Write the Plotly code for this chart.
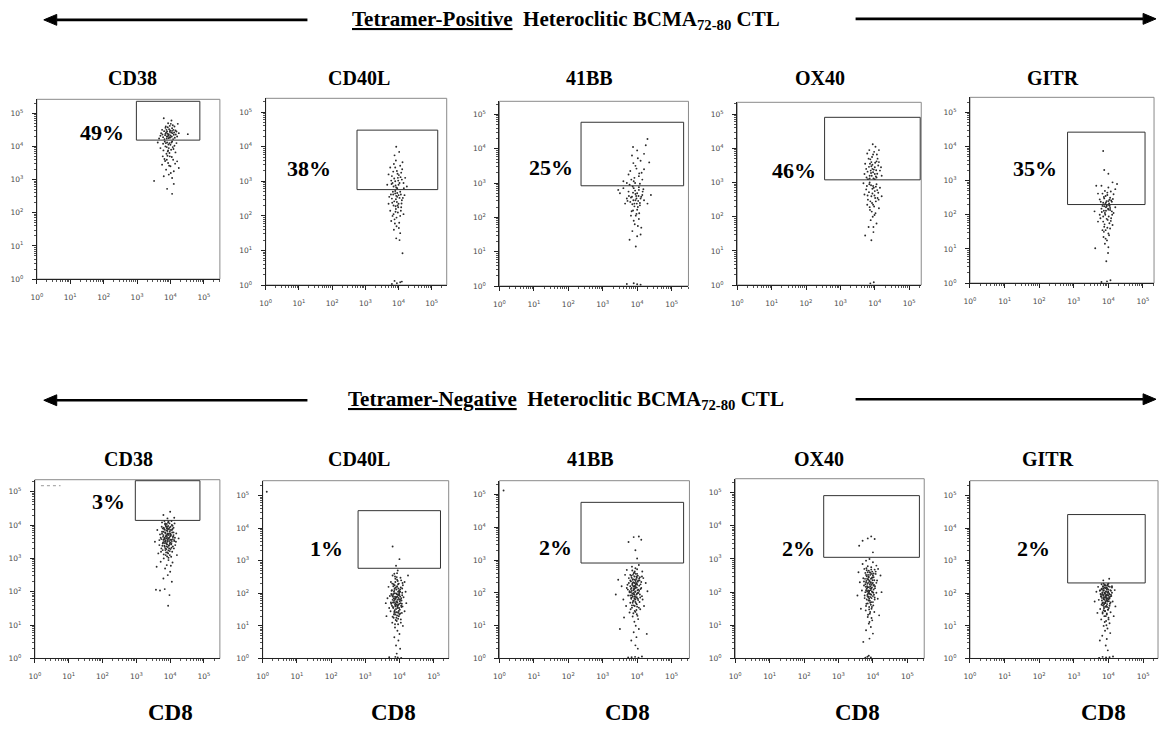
import plotly.graph_objects as go

W, H = 1162, 733

# ---------------------------------------------------------------- data
MARKERS = ["CD38", "CD40L", "41BB", "OX40", "GITR"]
POS_PCT = [49, 38, 25, 46, 35]      # % of tetramer-positive CTL in gate
NEG_PCT = [3, 1, 2, 2, 2]           # % of tetramer-negative CTL in gate
X_LABEL = "CD8"
DECADES = [0, 1, 2, 3, 4, 5]

# Events as (log10 CD8, log10 marker) pairs
CD38_POS = [
    (3.92, 4.30), (3.85, 4.38), (4.02, 4.42), (3.95, 4.25), (4.10, 4.35), (3.78, 4.28), (3.88, 4.50),
    (4.05, 4.55), (3.98, 4.62), (4.15, 4.48), (3.72, 4.40), (3.93, 4.70), (4.08, 4.22), (3.82, 4.22),
    (4.00, 4.33), (3.90, 4.45), (4.20, 4.30), (3.70, 4.32), (3.96, 4.52), (4.12, 4.60), (3.86, 4.60),
    (4.03, 4.78), (3.80, 4.85), (4.18, 4.45), (3.95, 4.37), (4.06, 4.40), (3.89, 4.30), (4.25, 4.40),
    (3.75, 4.50), (4.00, 4.27), (3.92, 4.58), (4.13, 4.26), (3.84, 4.34), (4.52, 4.37), (4.22, 4.68),
    (3.98, 4.44), (4.09, 4.50), (3.66, 4.24),
    (3.94, 4.34), (4.04, 4.30), (3.87, 4.42), (3.99, 4.48), (4.11, 4.42), (3.81, 4.46), (3.91, 4.38),
    (4.07, 4.64), (3.97, 4.28), (3.85, 4.56), (4.16, 4.36), (4.01, 4.68), (3.89, 4.24), (3.76, 4.36),
    (4.05, 4.47),
    (3.90, 4.12), (4.00, 4.05), (3.85, 4.00), (4.05, 4.15), (3.95, 3.95), (3.78, 4.08), (4.12, 4.02),
    (3.92, 3.85), (4.02, 3.90), (3.70, 3.95), (3.88, 3.78), (4.15, 3.82), (3.98, 3.70), (3.82, 3.62),
    (4.08, 3.60), (3.93, 3.50), (4.20, 3.55), (3.75, 3.45), (4.00, 3.40), (3.87, 3.30), (4.10, 3.25),
    (3.95, 3.15), (4.05, 3.05), (3.80, 3.10), (3.51, 2.96), (3.90, 2.72), (4.05, 2.57), (4.10, 2.87),
    (4.25, 3.35), (3.97, 4.10), (3.83, 4.15), (4.07, 3.98), (3.93, 3.88), (4.18, 4.10), (3.62, 4.12),
    (3.94, 4.06), (3.86, 4.10), (4.03, 4.12), (3.89, 3.98), (4.09, 3.92), (3.79, 3.88), (3.97, 3.80),
    (3.91, 3.72), (4.04, 3.68), (3.84, 3.56), (4.14, 3.48), (3.96, 3.42), (3.89, 3.60), (4.01, 3.20),
    (3.77, 3.70),
]
CD40L_POS = [
    (3.90, 3.00), (3.80, 3.15), (4.00, 2.90), (3.95, 3.30), (4.10, 3.05), (3.85, 2.85), (3.70, 3.20),
    (4.05, 3.45), (3.92, 3.60), (3.75, 3.40), (4.15, 2.95), (3.98, 3.10), (3.88, 3.75), (4.02, 3.85),
    (3.93, 4.00), (4.08, 3.25), (3.82, 2.95), (4.20, 3.10), (3.96, 2.80), (3.66, 2.90), (4.12, 3.55),
    (3.86, 3.50), (4.01, 3.18), (3.78, 3.02), (4.25, 2.85), (3.91, 2.88),
    (3.93, 2.82), (4.03, 2.95), (3.87, 3.08), (3.97, 3.22), (3.79, 2.92), (4.11, 3.35), (3.90, 3.40),
    (4.06, 3.12), (3.84, 3.28), (3.99, 3.02), (4.16, 2.80),
    (3.90, 2.65), (3.80, 2.50), (4.00, 2.60), (3.95, 2.40), (4.05, 2.70), (3.85, 2.30), (3.72, 2.55),
    (4.10, 2.45), (3.92, 2.20), (3.98, 2.10), (3.82, 2.00), (4.08, 2.25), (3.88, 1.90), (4.02, 1.80),
    (3.75, 2.15), (4.15, 2.05), (3.94, 1.70), (3.86, 1.60), (4.05, 1.50), (3.96, 2.55), (3.70, 2.35),
    (4.18, 2.60), (3.90, 2.72), (4.00, 2.35), (3.84, 2.62), (3.93, 1.35), (4.03, 1.30), (4.12, 0.92),
    (3.88, 0.12), (3.95, 0.05), (4.05, 0.08), (3.80, 0.03), (4.10, 0.10), (3.92, 2.48), (4.07, 2.15),
    (3.78, 1.85),
    (3.93, 2.58), (3.87, 2.42), (4.03, 2.52), (3.97, 2.30), (3.81, 2.38), (4.09, 2.36), (3.91, 2.12),
    (3.99, 2.25), (3.85, 2.05), (4.05, 2.00), (3.94, 1.95), (3.77, 2.62), (4.13, 2.52), (3.89, 1.78),
    (4.01, 1.65), (3.83, 2.70), (3.96, 2.66), (4.07, 2.62), (3.91, 2.28),
]
BB41_POS = [
    (3.90, 3.05), (4.05, 3.20), (3.80, 3.35), (4.15, 3.10), (3.95, 3.50), (4.10, 3.65), (3.70, 3.00),
    (4.20, 3.40), (3.85, 3.80), (4.00, 3.95), (4.25, 4.10), (4.30, 4.28), (3.75, 3.25), (4.08, 2.98),
    (3.92, 3.15), (4.35, 3.60), (3.60, 3.05), (4.02, 3.72), (3.88, 4.05),
    (3.94, 3.00), (4.06, 3.28), (3.83, 3.10), (3.98, 3.42), (4.13, 3.30), (3.89, 3.58), (4.20, 3.85),
    (3.78, 2.95),
    (3.90, 2.85), (4.00, 2.70), (3.85, 2.60), (4.05, 2.80), (3.95, 2.50), (3.75, 2.75), (4.10, 2.55),
    (3.92, 2.40), (4.02, 2.30), (3.80, 2.45), (4.15, 2.65), (3.88, 2.20), (4.08, 2.35), (3.70, 2.55),
    (3.98, 2.10), (4.20, 2.50), (3.60, 2.85), (3.82, 2.05), (4.05, 1.95), (3.93, 1.80), (4.12, 1.70),
    (3.86, 1.60), (4.00, 1.45), (3.78, 1.35), (4.10, 1.50), (3.96, 1.15), (3.50, 2.70), (4.30, 2.40),
    (3.65, 2.40), (3.97, 2.62), (4.03, 2.48), (3.87, 2.90), (4.18, 2.82), (3.45, 2.80), (4.40, 2.65),
    (4.00, 0.05), (3.90, 0.08), (4.10, 0.04), (3.70, 0.06),
    (3.94, 2.78), (4.04, 2.62), (3.88, 2.72), (3.98, 2.55), (3.82, 2.58), (4.08, 2.42), (3.92, 2.32),
    (4.00, 2.22), (3.86, 2.38), (4.12, 2.60), (3.76, 2.62), (3.96, 2.05), (4.06, 2.12), (3.90, 1.90),
    (4.02, 1.75), (3.84, 2.18), (3.95, 2.68), (4.16, 2.75), (3.72, 2.48), (3.99, 2.40), (3.89, 2.50),
    (4.05, 2.88),
]
OX40_POS = [
    (3.85, 3.20), (3.95, 3.30), (4.05, 3.15), (3.75, 3.40), (4.10, 3.50), (3.90, 3.60), (3.80, 3.10),
    (4.00, 3.45), (3.92, 3.75), (4.15, 3.35), (3.70, 3.25), (3.98, 3.90), (4.08, 3.70), (3.86, 3.55),
    (4.02, 4.05), (3.78, 3.85), (3.94, 4.12), (4.20, 3.20), (3.88, 3.35), (4.05, 3.62), (3.82, 3.70),
    (4.12, 3.95), (3.72, 3.55), (3.96, 3.12), (4.00, 3.25), (3.90, 3.48), (4.18, 3.45), (3.84, 3.95),
    (4.06, 3.82), (3.76, 3.15), (3.93, 3.40), (4.03, 3.18),
    (3.89, 3.28), (3.97, 3.38), (4.07, 3.26), (3.83, 3.46), (3.93, 3.52), (4.01, 3.58), (3.87, 3.68),
    (4.12, 3.60), (3.79, 3.32), (3.95, 3.82), (4.04, 3.36), (3.91, 3.20), (3.85, 3.12), (4.00, 3.10),
    (3.85, 3.00), (3.95, 2.90), (4.05, 2.95), (3.75, 2.80), (4.10, 2.70), (3.90, 2.60), (3.80, 2.50),
    (4.00, 2.75), (3.92, 2.40), (4.15, 2.85), (3.70, 2.65), (3.98, 2.30), (4.08, 2.55), (3.86, 2.20),
    (4.02, 2.10), (3.78, 2.35), (3.94, 2.00), (4.20, 2.60), (3.88, 1.90), (4.05, 1.80), (3.82, 1.70),
    (3.96, 1.55), (3.72, 1.45), (3.90, 1.31), (3.93, 2.82), (4.03, 2.45), (3.84, 2.95), (4.12, 2.25),
    (3.67, 2.98), (3.99, 2.62), (3.87, 0.05), (3.97, 0.08),
    (3.89, 2.92), (3.97, 2.85), (4.07, 2.78), (3.83, 2.72), (3.93, 2.68), (4.01, 2.55), (3.87, 2.45),
    (3.95, 2.35), (3.79, 2.62), (4.11, 2.50), (3.91, 2.15), (3.99, 2.05), (3.85, 2.28), (3.96, 1.70),
    (4.03, 2.88), (3.77, 2.90),
]
GITR_POS = [
    (3.95, 2.40), (4.05, 2.50), (3.85, 2.35), (4.15, 2.60), (3.90, 2.70), (4.00, 2.80), (3.75, 2.45),
    (4.10, 2.38), (3.80, 2.85), (4.20, 2.75), (3.92, 2.55), (4.25, 2.90), (3.70, 2.62), (4.02, 2.33),
    (3.88, 2.48), (3.85, 3.87), (3.88, 3.31), (4.00, 3.20), (3.65, 2.85), (4.12, 2.95), (3.97, 2.65),
    (4.08, 2.42),
    (3.93, 2.36), (4.03, 2.44), (3.87, 2.52), (3.97, 2.58), (4.13, 2.46), (3.83, 2.62), (4.07, 2.68),
    (3.91, 2.32), (3.78, 2.38), (4.00, 2.40),
    (3.95, 2.25), (4.00, 2.15), (3.90, 2.05), (4.05, 2.20), (3.85, 1.95), (4.10, 2.10), (3.80, 2.18),
    (3.98, 1.85), (4.03, 1.75), (3.88, 1.65), (4.08, 1.90), (3.92, 1.55), (3.75, 2.00), (4.15, 2.05),
    (4.00, 1.45), (3.86, 1.35), (3.96, 1.25), (4.05, 1.60), (3.90, 1.15), (3.70, 1.80), (4.02, 2.28),
    (3.93, 2.12), (3.83, 2.26), (4.12, 1.70), (3.62, 1.02), (3.94, 0.64), (4.00, 1.05), (3.87, 1.50),
    (3.99, 0.88), (4.20, 2.22), (3.60, 2.10), (3.96, 0.05), (4.06, 0.08), (3.80, 0.03),
    (3.93, 2.22), (3.99, 2.18), (3.87, 2.12), (4.05, 2.14), (3.91, 2.00), (3.81, 2.08), (4.01, 1.95),
    (3.95, 1.88), (3.85, 1.80), (4.07, 1.82), (3.89, 1.72), (3.97, 1.62), (3.83, 1.55), (4.02, 1.40),
    (3.92, 1.30), (3.77, 1.90), (4.11, 2.00), (3.95, 2.28), (3.88, 2.25), (4.04, 2.26),
]
CD38_NEG = [
    (3.85, 4.05), (3.95, 4.10), (4.05, 4.00), (3.75, 3.95), (3.90, 3.90), (4.00, 3.85), (3.80, 3.80),
    (4.10, 3.92), (3.92, 3.75), (3.88, 3.70), (4.02, 3.68), (3.70, 3.72), (3.97, 3.62), (3.83, 3.60),
    (4.08, 3.58), (3.93, 3.55), (3.86, 3.50), (4.00, 3.48), (3.78, 3.45), (4.12, 3.52), (3.91, 3.42),
    (3.96, 3.38), (3.84, 3.35), (4.04, 3.32), (3.89, 3.28), (3.99, 3.22), (3.74, 3.30), (4.15, 3.40),
    (3.94, 3.15), (3.87, 3.10), (4.03, 3.05), (3.81, 3.00), (3.95, 2.95), (4.07, 2.88), (3.90, 2.80),
    (3.72, 2.90), (3.85, 2.70), (4.00, 2.60), (3.60, 2.75), (3.93, 2.50), (3.80, 2.40), (4.05, 2.30),
    (3.58, 2.06), (3.70, 2.04), (3.84, 2.08), (3.98, 1.90), (3.94, 1.58), (3.65, 3.15), (4.20, 3.10),
    (4.25, 3.60), (3.55, 3.50), (3.62, 3.85), (4.18, 3.75), (3.98, 4.05), (3.87, 3.98), (4.06, 3.78),
    (3.79, 3.65), (3.93, 3.88), (4.01, 3.95), (3.84, 3.86), (3.96, 3.70), (4.09, 3.66), (3.82, 3.52),
    (3.91, 3.64), (4.03, 3.56), (3.77, 3.38), (3.99, 3.44), (3.86, 3.25), (4.11, 3.30), (3.92, 3.18),
    (3.83, 4.12), (4.04, 4.12), (3.90, 4.03), (3.76, 4.08), (4.13, 4.05), (3.68, 3.55), (4.17, 3.50),
    (3.73, 3.20), (3.95, 3.02), (4.02, 2.78), (3.88, 3.46), (3.97, 3.52), (3.85, 3.78), (4.07, 3.88),
    (3.94, 3.97), (3.80, 4.30), (4.00, 4.40), (3.92, 4.20), (4.12, 4.22), (3.89, 3.60), (4.00, 3.74),
    (3.81, 3.92),
    (3.88, 3.95), (3.98, 3.92), (3.82, 3.88), (4.05, 3.85), (3.92, 3.82), (3.76, 3.80), (4.10, 3.78),
    (3.86, 3.76), (3.96, 3.74), (4.02, 3.72), (3.80, 3.70), (3.90, 3.68), (4.08, 3.64), (3.84, 3.62),
    (3.95, 3.60), (3.74, 3.58), (4.00, 3.56), (3.87, 3.54), (4.12, 3.55), (3.92, 3.50), (3.79, 3.48),
    (4.04, 3.46), (3.89, 3.44), (3.97, 3.40), (3.83, 3.38), (4.08, 3.36), (3.93, 3.34), (3.86, 3.30),
    (4.01, 3.28), (3.78, 3.25), (3.95, 3.24), (4.06, 3.20), (3.88, 3.18), (3.81, 3.12), (3.99, 3.10),
    (3.91, 3.06), (4.10, 3.70), (3.72, 3.62), (3.85, 4.02), (3.94, 4.08), (4.07, 3.98), (3.78, 3.90),
    (3.99, 3.80), (3.87, 3.66), (3.93, 3.58), (3.83, 3.46), (4.03, 3.42), (3.90, 3.36), (3.96, 3.88),
    (4.14, 3.62), (3.68, 3.40), (3.76, 3.74), (3.91, 3.94), (4.00, 3.66), (3.84, 3.58), (3.97, 3.30),
    (3.89, 3.84), (4.05, 3.52), (3.80, 3.56), (3.92, 3.72),
]
CD40L_NEG = [
    (3.85, 2.60), (3.95, 2.70), (3.90, 2.85), (4.00, 3.05), (3.80, 3.44), (3.92, 2.50), (3.88, 2.45),
    (4.05, 2.40), (3.75, 2.35), (3.98, 2.30), (3.83, 2.28), (4.10, 2.25), (3.93, 2.20), (3.86, 2.15),
    (4.02, 2.12), (3.78, 2.10), (3.96, 2.05), (4.08, 2.02), (3.90, 2.00), (3.82, 1.98), (4.00, 1.95),
    (3.72, 1.92), (3.94, 1.90), (4.12, 1.88), (3.87, 1.85), (3.99, 1.82), (3.80, 1.80), (4.06, 1.78),
    (3.91, 1.75), (3.84, 1.72), (4.03, 1.70), (3.76, 1.68), (3.97, 1.65), (3.89, 1.62), (4.09, 1.60),
    (3.81, 1.58), (3.95, 1.55), (4.01, 1.50), (3.86, 1.48), (3.74, 1.45), (3.93, 1.42), (4.07, 1.40),
    (3.88, 1.35), (3.98, 1.30), (3.83, 1.25), (4.04, 1.20), (3.92, 1.15), (3.79, 1.10), (3.96, 1.05),
    (4.10, 1.00), (3.87, 0.95), (3.94, 0.85), (4.00, 0.75), (3.85, 0.65), (3.97, 0.55), (3.90, 0.40),
    (4.02, 0.30), (3.92, 0.15), (3.95, 0.03), (3.88, 0.05), (4.05, 0.02), (3.70, 0.04), (3.80, 2.55),
    (4.15, 2.35), (3.68, 2.20), (4.18, 2.05), (3.65, 1.85), (4.20, 1.70), (3.70, 1.55), (4.15, 1.45),
    (3.62, 1.30), (3.93, 2.62), (3.84, 2.05), (3.97, 1.95), (3.90, 1.88), (3.86, 1.80), (4.02, 1.90),
    (3.94, 1.72), (3.81, 1.92), (4.05, 1.62), (3.89, 2.18), (3.99, 2.08), (3.78, 1.95), (4.08, 2.15),
    (3.92, 1.66), (3.85, 1.40), (4.00, 1.35), (3.95, 2.38), (3.87, 2.52), (4.03, 2.48), (4.25, 2.55),
    (3.60, 1.70), (0.12, 5.12),
    (3.88, 2.35), (3.96, 2.28), (3.82, 2.22), (4.04, 2.18), (3.91, 2.12), (3.77, 2.08), (4.00, 2.04),
    (3.86, 2.00), (3.94, 1.96), (4.08, 1.94), (3.80, 1.90), (3.97, 1.86), (3.89, 1.83), (4.03, 1.80),
    (3.84, 1.77), (3.92, 1.74), (3.75, 1.72), (4.00, 1.68), (3.87, 1.65), (3.95, 1.62), (4.06, 1.58),
    (3.82, 1.55), (3.90, 1.52), (3.98, 1.46), (3.85, 1.44), (4.02, 1.38), (3.93, 1.32), (3.80, 1.28),
    (3.96, 1.22), (3.89, 1.18), (4.04, 1.10), (3.87, 1.05), (3.93, 2.42), (3.79, 2.30), (4.09, 2.32),
    (3.85, 2.10), (3.99, 2.00), (3.91, 1.88), (3.83, 1.85), (4.01, 1.76), (3.88, 1.70), (3.94, 1.58),
    (3.78, 1.62), (4.07, 1.68), (3.90, 1.42), (3.86, 2.25), (3.97, 2.15), (3.92, 1.98), (4.05, 1.85),
    (3.81, 1.72), (3.95, 1.80), (3.87, 1.90), (3.99, 1.55), (3.84, 1.35), (3.91, 1.25), (4.02, 2.05),
    (3.76, 1.98), (3.93, 2.22), (3.88, 1.60), (3.97, 1.40),
]
BB41_NEG = [
    (3.75, 3.55), (3.90, 3.70), (4.05, 3.72), (4.12, 3.62), (3.95, 3.30), (4.00, 3.05),
    (3.85, 2.80), (3.95, 2.75), (4.05, 2.85), (3.70, 2.70), (4.15, 2.65), (3.90, 2.60), (3.80, 2.55),
    (4.00, 2.58), (3.92, 2.50), (4.08, 2.48), (3.76, 2.45), (3.97, 2.42), (3.87, 2.40), (4.03, 2.38),
    (3.82, 2.35), (4.12, 2.33), (3.93, 2.30), (3.99, 2.28), (3.72, 2.25), (4.06, 2.22), (3.89, 2.20),
    (3.96, 2.18), (3.84, 2.15), (4.10, 2.12), (3.91, 2.10), (4.01, 2.08), (3.78, 2.05), (3.94, 2.03),
    (4.04, 2.00), (3.86, 1.98), (3.98, 1.95), (3.74, 1.92), (4.14, 1.90), (3.92, 1.88), (3.83, 1.85),
    (4.02, 1.82), (3.95, 1.80), (3.88, 1.75), (4.07, 1.72), (3.80, 1.70), (3.97, 1.68), (3.90, 1.62),
    (4.00, 1.58), (3.85, 1.55), (4.09, 1.50), (3.93, 1.45), (3.78, 1.40), (3.99, 1.35), (3.87, 1.28),
    (4.03, 1.20), (3.92, 1.12), (3.96, 1.00), (4.05, 0.90), (3.90, 0.80), (3.98, 0.65), (3.83, 0.55),
    (3.95, 0.40), (4.02, 0.30), (3.55, 2.20), (3.45, 2.40), (3.38, 1.95), (3.60, 1.80), (3.65, 2.55),
    (4.25, 2.30), (4.30, 2.05), (4.20, 1.60), (3.62, 1.25), (4.28, 0.75), (3.50, 0.90), (3.70, 2.15),
    (4.18, 2.45), (3.68, 1.60), (4.16, 1.80), (3.93, 2.65), (3.88, 2.32), (4.00, 2.25), (3.94, 2.14),
    (3.82, 2.02), (4.06, 2.06), (3.91, 1.95), (3.99, 1.87), (3.86, 2.28), (4.02, 2.52), (3.96, 2.36),
    (3.80, 1.92), (3.94, 0.05), (4.04, 0.02), (3.84, 0.04), (3.74, 0.03), (4.14, 0.06), (0.12, 5.12),
    (3.88, 2.55), (3.98, 2.50), (3.84, 2.46), (4.06, 2.44), (3.93, 2.40), (3.80, 2.38), (4.02, 2.34),
    (3.90, 2.32), (3.96, 2.26), (3.86, 2.24), (4.10, 2.26), (3.92, 2.20), (3.99, 2.16), (3.82, 2.12),
    (4.04, 2.10), (3.89, 2.08), (3.95, 2.04), (3.78, 2.02), (4.00, 1.98), (3.91, 1.96), (3.85, 1.93),
    (4.08, 1.95), (3.94, 1.90), (3.97, 1.85), (3.83, 1.82), (4.03, 1.78), (3.90, 1.76), (3.87, 1.70),
    (3.99, 1.65), (3.93, 1.60), (4.05, 1.55), (3.81, 1.50), (3.95, 1.42), (3.89, 1.38), (4.01, 1.30),
    (3.92, 2.62), (3.86, 2.68), (4.00, 2.72), (3.76, 2.30), (4.12, 2.15), (3.88, 2.42), (3.94, 2.22),
    (4.02, 2.00), (3.84, 2.06), (3.97, 2.30), (3.91, 2.14), (3.80, 2.20), (4.07, 2.38), (3.95, 1.72),
    (3.87, 1.88), (3.99, 2.46), (3.83, 2.52), (4.09, 1.86), (3.90, 2.00), (3.96, 2.58), (3.73, 2.10),
    (4.14, 2.50), (3.85, 1.62), (3.98, 1.48), (3.92, 1.82),
]
OX40_NEG = [
    (3.70, 3.55), (3.85, 3.62), (3.95, 3.68), (4.05, 3.60), (3.60, 3.40), (4.00, 3.20),
    (3.80, 2.95), (3.90, 3.00), (4.00, 2.90), (3.70, 2.85), (4.10, 2.80), (3.85, 2.78), (3.95, 2.75),
    (3.75, 2.70), (4.05, 2.68), (3.88, 2.65), (3.98, 2.62), (3.78, 2.58), (4.08, 2.55), (3.92, 2.52),
    (3.82, 2.48), (4.02, 2.45), (3.72, 2.42), (3.94, 2.40), (3.86, 2.38), (4.12, 2.35), (3.90, 2.32),
    (3.80, 2.30), (4.00, 2.28), (3.84, 2.25), (3.96, 2.22), (3.74, 2.20), (4.06, 2.18), (3.88, 2.15),
    (3.92, 2.12), (3.82, 2.10), (4.02, 2.08), (3.86, 2.05), (3.97, 2.02), (3.78, 2.00), (4.10, 1.98),
    (3.90, 1.95), (3.84, 1.92), (4.00, 1.88), (3.93, 1.85), (3.76, 1.82), (4.05, 1.78), (3.87, 1.75),
    (3.95, 1.70), (3.81, 1.65), (4.01, 1.60), (3.89, 1.55), (3.96, 1.50), (3.79, 1.45), (4.04, 1.40),
    (3.91, 1.35), (3.85, 1.25), (3.98, 1.15), (3.88, 1.05), (3.94, 0.95), (3.80, 0.85), (4.00, 0.75),
    (3.90, 0.60), (3.72, 0.50), (3.58, 2.60), (3.55, 1.90), (4.22, 2.50), (4.25, 2.00), (3.65, 1.50),
    (4.18, 1.30), (3.62, 2.30), (4.15, 2.70), (3.68, 2.05), (4.14, 1.80), (3.87, 2.45), (3.93, 2.28),
    (3.83, 2.18), (3.99, 2.36), (3.89, 2.02), (3.95, 1.92), (3.77, 2.40), (4.03, 2.22), (3.86, 1.85),
    (3.91, 2.60), (3.81, 2.72), (3.97, 2.55), (3.84, 0.05), (3.94, 0.03), (3.88, 0.08), (3.78, 0.02),
    (3.85, 2.60), (3.93, 2.58), (3.80, 2.52), (4.00, 2.50), (3.88, 2.46), (3.96, 2.42), (3.83, 2.40),
    (4.04, 2.36), (3.90, 2.34), (3.86, 2.28), (3.98, 2.26), (3.78, 2.24), (4.02, 2.20), (3.92, 2.18),
    (3.84, 2.14), (3.95, 2.10), (4.06, 2.12), (3.80, 2.06), (3.89, 2.04), (3.99, 2.00), (3.86, 1.96),
    (3.93, 1.94), (3.76, 1.90), (4.03, 1.92), (3.88, 1.86), (3.96, 1.82), (3.82, 1.78), (3.91, 1.74),
    (4.00, 1.70), (3.85, 1.66), (3.94, 1.62), (3.80, 1.58), (3.97, 1.55), (3.89, 1.48), (3.92, 1.40),
    (3.86, 1.32), (3.96, 1.22), (3.90, 1.10), (3.82, 2.66), (3.95, 2.68), (4.08, 2.62), (3.74, 2.32),
    (4.10, 2.28), (3.87, 2.38), (3.91, 2.24), (3.83, 2.02), (4.01, 1.98), (3.94, 2.30), (3.79, 2.16),
    (3.98, 2.44), (3.88, 1.98), (3.84, 1.88), (4.05, 1.84), (3.92, 1.68), (3.86, 2.52), (3.97, 2.14),
    (3.81, 2.34), (4.02, 2.56), (3.89, 1.80), (3.93, 2.06),
]
GITR_NEG = [
    (3.80, 2.28), (3.90, 2.25), (4.00, 2.22), (3.70, 2.20), (4.10, 2.18), (3.85, 2.15), (3.95, 2.12),
    (4.05, 2.10), (3.75, 2.08), (3.92, 2.05), (3.88, 2.02), (4.02, 2.00), (3.82, 1.98), (3.97, 1.95),
    (4.08, 1.92), (3.78, 1.90), (3.93, 1.88), (3.86, 1.85), (4.00, 1.82), (3.72, 1.80), (3.96, 1.78),
    (4.12, 1.75), (3.84, 1.72), (3.91, 1.70), (4.04, 1.68), (3.80, 1.65), (3.94, 1.62), (3.87, 1.58),
    (4.01, 1.55), (3.76, 1.52), (3.98, 1.50), (3.90, 1.45), (4.06, 1.42), (3.83, 1.38), (3.95, 1.35),
    (3.88, 1.30), (4.00, 1.25), (3.79, 1.20), (3.93, 1.15), (4.03, 1.08), (3.86, 1.00), (3.97, 0.92),
    (3.90, 0.85), (4.05, 0.78), (3.82, 0.70), (3.95, 0.60), (3.75, 0.55), (3.92, 0.40), (3.98, 0.25),
    (3.65, 2.05), (4.18, 2.10), (3.60, 1.75), (4.20, 1.60), (3.68, 1.40), (4.15, 1.30), (3.89, 2.18),
    (3.99, 2.06), (3.85, 1.93), (3.94, 1.84), (3.81, 2.12), (4.07, 1.96), (3.92, 1.76), (3.87, 1.66),
    (4.02, 1.88), (3.96, 2.16), (3.77, 1.98), (4.10, 2.02), (3.91, 1.92), (3.84, 2.22), (4.00, 2.30),
    (3.85, 2.40), (4.02, 2.45), (3.93, 0.03), (3.83, 0.05), (4.03, 0.04), (3.73, 0.02), (4.13, 0.06),
    (3.88, 2.26), (3.96, 2.24), (3.84, 2.20), (4.04, 2.20), (3.91, 2.16), (3.80, 2.14), (3.99, 2.12),
    (3.87, 2.10), (4.07, 2.08), (3.93, 2.06), (3.82, 2.03), (3.97, 2.02), (3.89, 1.99), (4.02, 1.97),
    (3.85, 1.95), (3.94, 1.93), (3.79, 1.91), (4.05, 1.90), (3.90, 1.87), (3.98, 1.85), (3.86, 1.82),
    (3.95, 1.80), (3.81, 1.78), (4.01, 1.76), (3.91, 1.73), (3.88, 1.70), (3.96, 1.67), (3.84, 1.63),
    (4.03, 1.62), (3.92, 1.59), (3.87, 1.54), (3.99, 1.50), (3.90, 1.46), (3.83, 1.42), (3.95, 1.38),
    (3.92, 1.30), (4.00, 1.20), (3.89, 1.12), (3.94, 1.02), (3.86, 2.30), (3.98, 2.28), (4.10, 2.22),
    (3.76, 2.10), (3.93, 1.96), (3.87, 1.88), (3.97, 1.75), (3.82, 1.70), (4.06, 1.72), (3.90, 2.00),
    (3.85, 2.08), (4.00, 1.93), (3.94, 2.18), (3.81, 1.86), (3.96, 1.58), (3.89, 1.80), (4.03, 1.84),
    (3.91, 2.24), (3.78, 1.96), (3.99, 2.03), (3.86, 1.48),
]
EVENTS = [CD38_POS, CD40L_POS, BB41_POS, OX40_POS, GITR_POS,
          CD38_NEG, CD40L_NEG, BB41_NEG, OX40_NEG, GITR_NEG]

# Rectangular gates in log10 units: (CD8 low, CD8 high, marker low, marker high)
GATES = [
    (2.98, 4.88, 4.19, 5.36), (2.75, 5.18, 2.76, 4.48), (2.37, 5.35, 2.92, 4.77),
    (2.54, 5.32, 3.08, 4.91), (2.82, 5.06, 2.30, 4.42),
    (2.97, 4.88, 4.14, 5.33), (2.79, 5.20, 2.77, 4.54), (2.37, 5.35, 2.91, 4.76),
    (2.57, 5.35, 3.05, 4.91), (2.82, 5.06, 2.32, 4.42),
]
# Saturated-event tick row at top of the CD38 negative plot (log10 units)
CD38_NEG_TOPROW_X = [0.18, 0.76]
CD38_NEG_TOPROW_Y = [5.18, 5.18]

# ---------------------------------------------------------------- layout
# plot frames in page pixels: (left, right, top, bottom)
FRAMES = [
    (31, 215, 100, 281), (261, 443, 99, 287), (496, 686, 102, 288),
    (735, 920, 103, 287), (969, 1154, 98, 285),
    (29, 215, 483, 663), (258, 445, 484, 663), (496, 687, 484, 663),
    (733, 923, 482, 663), (969, 1158, 484, 663),
]
# visible axis extent in decades: (x max, y max)
SPANS = [
    (5.48, 5.42), (5.45, 5.40), (5.49, 5.38), (5.35, 5.35), (5.32, 5.44),
    (5.47, 5.36), (5.44, 5.46), (5.52, 5.42), (5.49, 5.42), (5.43, 5.46),
]
TITLE_XY = [(127, 79), (355, 79), (587, 79), (818, 79), (1052, 79),
            (123, 462), (355, 462), (588, 462), (817, 462), (1047, 462)]
PCT_XY = [(96, 133), (305, 170), (548, 169), (792, 172), (1034, 170),
          (103, 505), (322, 552), (552, 551), (797, 552), (1033, 552)]
CD8_XY = [(165, 717), (390, 717), (625, 717), (856, 717), (1103, 717)]

SERIF = "Liberation Serif, Times New Roman, serif"


def fx(p):
    return p / W


def fy(p):
    return 1 - p / H


tickvals = [10 ** d for d in DECADES]
ticktext = [f"10<sup>{d}</sup>" for d in DECADES]
minor_vals = [k * 10 ** d for d in DECADES for k in range(2, 10)]

fig = go.Figure()
annotations = []
shapes = []
layout_axes = {}

for i in range(10):
    n = i + 1
    xa = "x" if n == 1 else f"x{n}"
    ya = "y" if n == 1 else f"y{n}"
    xkey = "xaxis" if n == 1 else f"xaxis{n}"
    ykey = "yaxis" if n == 1 else f"yaxis{n}"
    left, right, top, bottom = FRAMES[i]
    xmax, ymax = SPANS[i]

    pts = EVENTS[i]
    fig.add_trace(go.Scatter(
        x=[10 ** p[0] for p in pts], y=[10 ** p[1] for p in pts],
        mode="markers", marker=dict(size=1.9, color="#2b2b2b", line=dict(width=0)),
        xaxis=xa, yaxis=ya, hoverinfo="skip", showlegend=False))

    gx0, gx1, gy0, gy1 = GATES[i]
    fig.add_trace(go.Scatter(
        x=[10 ** gx0, 10 ** gx1, 10 ** gx1, 10 ** gx0, 10 ** gx0],
        y=[10 ** gy0, 10 ** gy0, 10 ** gy1, 10 ** gy1, 10 ** gy0],
        mode="lines", line=dict(color="#333333", width=1),
        xaxis=xa, yaxis=ya, hoverinfo="skip", showlegend=False))

    if i == 5:
        fig.add_trace(go.Scatter(
            x=[10 ** v for v in CD38_NEG_TOPROW_X], y=[10 ** v for v in CD38_NEG_TOPROW_Y],
            mode="lines", line=dict(color="#999999", width=1, dash="3px,3px"),
            xaxis=xa, yaxis=ya, hoverinfo="skip", showlegend=False))

    common = dict(
        type="log", showgrid=False, zeroline=False,
        showline=True, linecolor="#222222", linewidth=1,
        tickmode="array", tickvals=tickvals, ticktext=ticktext,
        ticks="outside", ticklen=4, tickwidth=1, tickcolor="#222222",
        tickfont=dict(family="DejaVu Sans, sans-serif", size=7.5, color="#4a4a4a"),
        minor=dict(tickmode="array", tickvals=minor_vals, ticks="outside",
                   ticklen=2, tickwidth=1, tickcolor="#555555", showgrid=False),
        fixedrange=True,
    )
    layout_axes[xkey] = dict(common, domain=[fx(left), fx(right)], range=[0, xmax],
                             anchor=ya, ticklabelstandoff=7)
    layout_axes[ykey] = dict(common, domain=[fy(bottom), fy(top)], range=[0, ymax],
                             anchor=xa, ticklabelstandoff=7)

    # gray plot frame
    shapes.append(dict(type="rect", xref=f"{xa} domain", yref=f"{ya} domain",
                       x0=0, x1=1, y0=0, y1=1, line=dict(color="#8a8a8a", width=1),
                       layer="below"))

    # marker name above the plot
    tx, ty = TITLE_XY[i]
    annotations.append(dict(text=f"<b>{MARKERS[i % 5]}</b>", x=fx(tx), y=fy(ty),
                            xref="paper", yref="paper", showarrow=False,
                            xanchor="center", yanchor="middle",
                            font=dict(family=SERIF, size=20, color="black")))
    # gated percentage
    pct = POS_PCT[i] if i < 5 else NEG_PCT[i - 5]
    px_, py_ = PCT_XY[i]
    annotations.append(dict(text=f"<b>{pct}%</b>", x=fx(px_), y=fy(py_),
                            xref="paper", yref="paper", showarrow=False,
                            xanchor="center", yanchor="middle",
                            font=dict(family=SERIF, size=22, color="black")))

for cx, cy in CD8_XY:
    annotations.append(dict(text=f"<b>{X_LABEL}</b>", x=fx(cx), y=fy(cy),
                            xref="paper", yref="paper", showarrow=False,
                            xanchor="center", yanchor="middle",
                            font=dict(family=SERIF, size=23, color="black")))


def arrow(x_head, x_tail, y):
    """Thick horizontal arrow drawn as a line plus a filled triangular head."""
    d = 1 if x_tail > x_head else -1
    head_len, head_half = 13, 5.5
    base = x_head + d * head_len
    shapes.append(dict(type="line", xref="paper", yref="paper",
                       x0=fx(base), x1=fx(x_tail), y0=fy(y), y1=fy(y),
                       line=dict(color="black", width=2.6)))
    path = (f"M {fx(x_head)},{fy(y)} L {fx(base)},{fy(y - head_half)} "
            f"L {fx(base)},{fy(y + head_half)} Z")
    shapes.append(dict(type="path", xref="paper", yref="paper", path=path,
                       fillcolor="black", line=dict(color="black", width=1)))


# row headers with arrows on either side
HEADERS = [("Tetramer-Positive", 20), ("Tetramer-Negative", 403)]
for label, hy in HEADERS:
    annotations.append(dict(
        text=f"<b><u>{label}</u>&nbsp;&nbsp;Heteroclitic BCMA<sub>72-80</sub> CTL</b>",
        x=fx(563), y=fy(hy), xref="paper", yref="paper", showarrow=False,
        xanchor="center", yanchor="middle",
        font=dict(family=SERIF, size=21, color="black")))
    arrow(38, 303, hy)
    arrow(1156, 854, hy - 1)

fig.update_layout(
    width=W, height=H, margin=dict(l=0, r=0, t=0, b=0),
    paper_bgcolor="white", plot_bgcolor="white",
    showlegend=False, hovermode=False,
    annotations=annotations, shapes=shapes,
    **layout_axes,
)

fig.write_html("out.html", config={"displayModeBar": False})
